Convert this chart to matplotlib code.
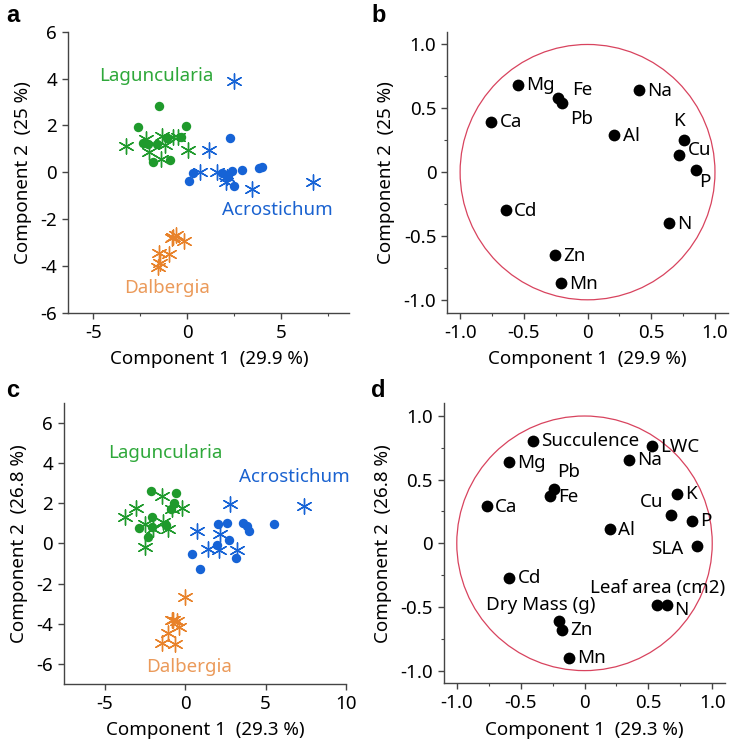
import matplotlib
matplotlib.use("Agg")
import matplotlib.pyplot as plt
from matplotlib.ticker import MultipleLocator, FuncFormatter
from matplotlib.patches import Circle

plt.rcParams['font.family'] = ['Noto Sans', 'DejaVu Sans']
plt.rcParams['axes.unicode_minus'] = False

# ---- panel a: scores (leaf elements) ----
a_lag_circ_x = [-1.49, -2.61, -0.07, -2.34, -1.63, -1.07, -0.34, -1.81, -0.92, -2.10]
a_lag_circ_y = [2.83, 1.94, 1.96, 1.26, 1.19, 1.45, 1.49, 0.42, 0.52, 1.22]
a_lag_star_x = [-3.28, -2.20, -1.36, -0.48, 0.05, -2.05, -1.42, -1.17, -0.75]
a_lag_star_y = [1.13, 1.42, 1.55, 1.52, 0.95, 0.88, 0.57, 1.15, 1.50]
a_acr_circ_x = [0.09, 0.32, 1.83, 2.05, 2.15, 2.40, 2.93, 2.27, 3.84, 3.96, 2.50]
a_acr_circ_y = [-0.36, -0.05, -0.02, -0.12, -0.19, 0.05, 0.09, 1.44, 0.16, 0.22, -0.58]
a_acr_star_x = [2.49, 1.15, 0.67, 1.60, 2.04, 3.46, 6.71, 2.10]
a_acr_star_y = [3.90, 0.94, 0.01, -0.01, -0.41, -0.73, -0.41, -0.20]
a_dal_star_x = [-0.75, -0.62, -0.18, -1.49, -0.96, -1.53, -1.46, -0.83]
a_dal_star_y = [-2.76, -2.69, -2.93, -3.45, -3.50, -4.05, -3.90, -2.83]

# ---- panel c: scores (elements + leaf traits) ----
c_lag_circ_x = [-2.11, -0.56, -0.68, -0.87, -2.07, -2.07, -2.86, -1.18, -2.28]
c_lag_circ_y = [2.64, 2.52, 2.02, 1.72, 1.34, 0.81, 0.78, 0.90, 0.31]
c_lag_star_x = [-3.73, -3.04, -1.45, -0.21, -2.48, -1.35, -1.04, -1.97, -2.48, -0.83]
c_lag_star_y = [1.31, 1.76, 2.39, 1.76, 0.98, 1.06, 0.70, 0.73, -0.18, 1.72]
c_acr_circ_x = [2.07, 2.59, 3.62, 3.83, 4.00, 5.55, 2.75, 2.01, 3.17, 0.43, 0.93]
c_acr_circ_y = [0.98, 1.01, 1.03, 0.86, 0.60, 0.98, 0.15, -0.10, -0.71, -0.51, -1.29]
c_acr_star_x = [2.80, 7.41, 0.77, 2.17, 1.45, 2.11, 3.21]
c_acr_star_y = [1.97, 1.86, 0.60, 0.48, -0.27, -0.31, -0.31]
c_dal_star_x = [0.02, -0.83, -0.52, -0.35, -1.04, -1.45, -0.62, -0.72]
c_dal_star_y = [-2.65, -3.80, -3.88, -4.16, -4.49, -4.99, -5.04, -3.83]

# ---- panel b: loadings ----
b_names = ['Mg', 'Fe', 'Pb', 'Na', 'Ca', 'Al', 'K', 'Cu', 'P', 'Cd', 'N', 'Zn', 'Mn']
b_x = [-0.545, -0.23, -0.197, 0.404, -0.755, 0.21, 0.757, 0.72, 0.85, -0.642, 0.64, -0.252, -0.21]
b_y = [0.686, 0.584, 0.54, 0.644, 0.396, 0.287, 0.253, 0.136, 0.018, -0.297, -0.40, -0.649, -0.871]

# ---- panel d: loadings ----
d_names = ['Succulence', 'Mg', 'LWC', 'Na', 'Pb', 'Fe', 'Ca', 'K', 'Cu', 'P', 'Al', 'SLA',
           'Cd', 'Leaf area (cm2)', 'N', 'Dry Mass (g)', 'Zn', 'Mn']
d_x = [-0.407, -0.589, 0.527, 0.349, -0.235, -0.274, -0.764, 0.722, 0.678, 0.84, 0.20, 0.879,
       -0.589, 0.571, 0.644, -0.198, -0.175, -0.12]
d_y = [0.806, 0.639, 0.762, 0.657, 0.429, 0.372, 0.291, 0.39, 0.22, 0.178, 0.113, -0.021,
       -0.27, -0.487, -0.487, -0.61, -0.678, -0.898]

GREEN = '#1f9a2c'
BLUE = '#1663d6'
ORANGE = '#e8822a'
ASTER = (6, 2, 0)
SPINE = '#444444'
FS = 13.5

# label placement (dx, dy) in data units relative to the point, centred text
b_place = {'Fe': (0.19, 0.06), 'Pb': (0.15, -0.12), 'K': (-0.04, 0.15),
           'Cu': (0.16, 0.035), 'P': (0.07, -0.095)}
d_place = {'Pb': (0.11, 0.13), 'Cu': (-0.15, 0.105), 'SLA': (-0.235, -0.026),
           'Leaf area (cm2)': (0.003, 0.136), 'N': (0.11, -0.039),
           'Dry Mass (g)': (-0.141, 0.123)}

fig = plt.figure(figsize=(7.31, 7.46), dpi=100)
ax_a = fig.add_axes([0.0934, 0.581, 0.3846, 0.3765])
ax_b = fig.add_axes([0.612, 0.581, 0.3835, 0.3765])
ax_c = fig.add_axes([0.088, 0.0835, 0.3853, 0.376])
ax_d = fig.add_axes([0.6074, 0.0840, 0.3844, 0.3754])


def style(ax):
    for s in ['top', 'right']:
        ax.spines[s].set_visible(False)
    for s in ['left', 'bottom']:
        ax.spines[s].set_color(SPINE)
        ax.spines[s].set_linewidth(1.0)
    ax.tick_params(which='major', length=4, width=1, color=SPINE, labelsize=FS, pad=4)
    ax.tick_params(which='minor', length=2.5, width=0.8, color=SPINE)


def fmt(v, pos):
    if abs(v) < 1e-9:
        return '0'
    return '%g' % v


def fmt1(v, pos):
    if abs(v) < 1e-9:
        return '0'
    return '%.1f' % v


def scores(ax, groups, labels, xlim, ylim, xlab, ylab, xminor):
    for xs, ys, color, kind in groups:
        if kind == 'o':
            ax.scatter(xs, ys, s=46, color=color, marker='o', linewidths=0, zorder=3)
        else:
            ax.scatter(xs, ys, s=120, color=color, marker=ASTER, linewidths=1.0, zorder=3)
    for txt, x, y, color in labels:
        ax.text(x, y, txt, color=color, fontsize=FS, ha='center', va='center')
    ax.set_xlim(*xlim)
    ax.set_ylim(*ylim)
    ax.xaxis.set_major_locator(MultipleLocator(5))
    if xminor:
        ax.xaxis.set_minor_locator(MultipleLocator(2.5))
    ax.yaxis.set_major_locator(MultipleLocator(2))
    ax.xaxis.set_major_formatter(FuncFormatter(fmt))
    ax.yaxis.set_major_formatter(FuncFormatter(fmt))
    ax.set_xlabel(xlab, fontsize=FS, labelpad=6)
    ax.set_ylabel(ylab, fontsize=FS, labelpad=6)
    style(ax)


def loadings(ax, names, xs, ys, place, xlab, ylab):
    ax.add_patch(Circle((0, 0), 1.0, fill=False, edgecolor='#d8435e', linewidth=0.9, zorder=1))
    ax.scatter(xs, ys, s=72, color='black', linewidths=0, zorder=3)
    for n, x, y in zip(names, xs, ys):
        if n in place:
            dx, dy = place[n]
            ax.text(x + dx, y + dy, n, fontsize=FS, ha='center', va='center', zorder=4)
        else:
            ax.text(x + 0.065, y - 0.005, n, fontsize=FS, ha='left', va='center', zorder=4)
    ax.set_xlim(-1.1, 1.1)
    ax.set_ylim(-1.1, 1.1)
    ax.xaxis.set_major_locator(MultipleLocator(0.5))
    ax.xaxis.set_minor_locator(MultipleLocator(0.25))
    ax.yaxis.set_major_locator(MultipleLocator(0.5))
    ax.yaxis.set_minor_locator(MultipleLocator(0.25))
    ax.xaxis.set_major_formatter(FuncFormatter(fmt1))
    ax.yaxis.set_major_formatter(FuncFormatter(fmt1))
    ax.set_xlabel(xlab, fontsize=FS, labelpad=6)
    ax.set_ylabel(ylab, fontsize=FS, labelpad=6)
    style(ax)


scores(ax_a,
       [(a_lag_circ_x, a_lag_circ_y, GREEN, 'o'), (a_lag_star_x, a_lag_star_y, GREEN, '*'),
        (a_acr_circ_x, a_acr_circ_y, BLUE, 'o'), (a_acr_star_x, a_acr_star_y, BLUE, '*'),
        (a_dal_star_x, a_dal_star_y, ORANGE, '*')],
       [('Laguncularia', -1.67, 4.1, '#2ea83a'), ('Acrostichum', 4.81, -1.62, '#1a62d0'),
        ('Dalbergia', -1.10, -4.93, '#eb9a5a')],
       (-6.33, 8.63), (-6, 6), 'Component 1  (29.9 %)', 'Component 2  (25 %)', True)

scores(ax_c,
       [(c_lag_circ_x, c_lag_circ_y, GREEN, 'o'), (c_lag_star_x, c_lag_star_y, GREEN, '*'),
        (c_acr_circ_x, c_acr_circ_y, BLUE, 'o'), (c_acr_star_x, c_acr_star_y, BLUE, '*'),
        (c_dal_star_x, c_dal_star_y, ORANGE, '*')],
       [('Laguncularia', -1.2, 4.54, '#2ea83a'), ('Acrostichum', 6.79, 3.33, '#1a62d0'),
        ('Dalbergia', 0.25, -6.17, '#eb9a5a')],
       (-7.5, 10), (-7, 7), 'Component 1  (29.3 %)', 'Component 2  (26.8 %)', False)

loadings(ax_b, b_names, b_x, b_y, b_place, 'Component 1  (29.9 %)', 'Component 2  (25 %)')
loadings(ax_d, d_names, d_x, d_y, d_place, 'Component 1  (29.3 %)', 'Component 2  (26.8 %)')

for letter, x, y in [('a', 0.008, 0.994), ('b', 0.508, 0.994), ('c', 0.008, 0.492), ('d', 0.508, 0.492)]:
    fig.text(x, y, letter, fontsize=17, fontweight='bold', ha='left', va='top',
             family=['Liberation Sans', 'DejaVu Sans'])

fig.savefig('out.png', dpi=100)
